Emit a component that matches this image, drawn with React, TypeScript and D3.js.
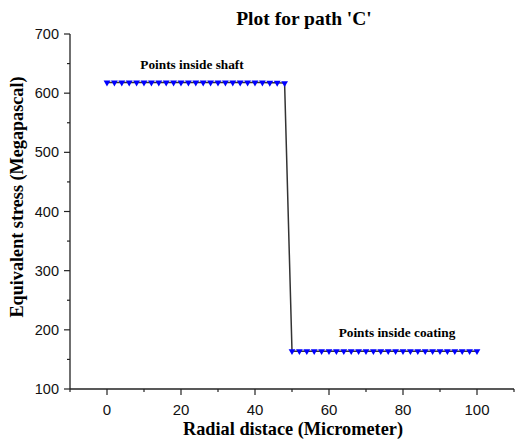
import React from "react";
import * as d3 from "d3";

const shaftX = [0, 2, 4, 6, 8, 10, 12, 14, 16, 18, 20, 22, 24, 26, 28, 30, 32, 34, 36, 38, 40, 42, 44, 46, 48];
const shaftY = [618, 618, 618, 618, 618, 618, 618, 618, 618, 618, 618, 618, 618, 618, 618, 618, 618, 618, 618, 618, 618, 618, 617.5, 617.5, 617];
const coatX = [50, 52, 54, 56, 58, 60, 62, 64, 66, 68, 70, 72, 74, 76, 78, 80, 82, 84, 86, 88, 90, 92, 94, 96, 98, 100];
const coatY = [164, 164, 164, 164, 164, 164, 164, 164, 164, 164, 164, 164, 164, 164, 164, 164, 164, 164, 164, 164, 164, 164, 164, 164, 164, 164];
const xTicks = [0, 20, 40, 60, 80, 100];
const xMinor = [-10, 10, 30, 50, 70, 90, 110];
const yTicks = [100, 200, 300, 400, 500, 600, 700];
const yMinor = [150, 250, 350, 450, 550, 650];

const title = "Plot for path 'C'";
const xTitle = "Radial distace (Micrometer)";
const yTitle = "Equivalent stress (Megapascal)";
const label1 = "Points inside shaft";
const label2 = "Points inside coating";

export default function App() {
  const W = 515, H = 447;
  const x = d3.scaleLinear().domain([-10, 110]).range([70, 514]);
  const y = d3.scaleLinear().domain([100, 700]).range([389, 34]);
  const pts: [number, number][] = [
    ...shaftX.map((v, i) => [v, shaftY[i]] as [number, number]),
    ...coatX.map((v, i) => [v, coatY[i]] as [number, number]),
  ];
  const line = d3.line<[number, number]>().x(d => x(d[0])).y(d => y(d[1]));
  const tri = d3.symbol().type(d3.symbolTriangle).size(20)();
  const serif = "'Liberation Serif', 'Times New Roman', serif";
  const sans = "'Liberation Sans', Arial, sans-serif";
  const axisColor = "#222";
  return (
    <svg width={W} height={H} style={{ position: "absolute", left: 0, top: 0, background: "#fff" }}>
      <text x={304} y={25} textAnchor="middle" fontFamily={serif} fontWeight="bold" fontSize={19.5}>{title}</text>
      {/* axes */}
      <line x1={70} x2={70} y1={y(700)} y2={y(100)} stroke={axisColor} strokeWidth={1.3} />
      <line x1={70} x2={x(110)} y1={389} y2={389} stroke={axisColor} strokeWidth={1.3} />
      {yTicks.map(t => (
        <g key={"y" + t}>
          <line x1={64} x2={70} y1={y(t)} y2={y(t)} stroke={axisColor} strokeWidth={1.2} />
          <text x={59} y={y(t) + 5} textAnchor="end" fontFamily={sans} fontSize={14.5} fill="#111">{t}</text>
        </g>
      ))}
      {yMinor.map(t => (
        <line key={"ym" + t} x1={67} x2={70} y1={y(t)} y2={y(t)} stroke={axisColor} strokeWidth={1.2} />
      ))}
      {xTicks.map(t => (
        <g key={"x" + t}>
          <line x1={x(t)} x2={x(t)} y1={389} y2={395} stroke={axisColor} strokeWidth={1.2} />
          <text x={x(t)} y={415} textAnchor="middle" fontFamily={sans} fontSize={15} fill="#111">{t}</text>
        </g>
      ))}
      {xMinor.map(t => (
        <line key={"xm" + t} x1={x(t)} x2={x(t)} y1={389} y2={392} stroke={axisColor} strokeWidth={1.2} />
      ))}
      <text x={293} y={435} textAnchor="middle" fontFamily={serif} fontWeight="bold" fontSize={18.3}>{xTitle}</text>
      <text transform={`translate(23,197) rotate(-90)`} textAnchor="middle" fontFamily={serif} fontWeight="bold" fontSize={18.2}>{yTitle}</text>
      {/* data */}
      <path d={line(pts) || ""} fill="none" stroke="#333" strokeWidth={1.5} />
      {pts.map((p, i) => (
        <path key={i} d={tri || ""} transform={`translate(${x(p[0])},${y(p[1])}) rotate(180)`} fill="#0000ff" />
      ))}
      <text x={192} y={69} textAnchor="middle" fontFamily={serif} fontWeight="bold" fontSize={13.3}>{label1}</text>
      <text x={397} y={337} textAnchor="middle" fontFamily={serif} fontWeight="bold" fontSize={13.3}>{label2}</text>
    </svg>
  );
}
